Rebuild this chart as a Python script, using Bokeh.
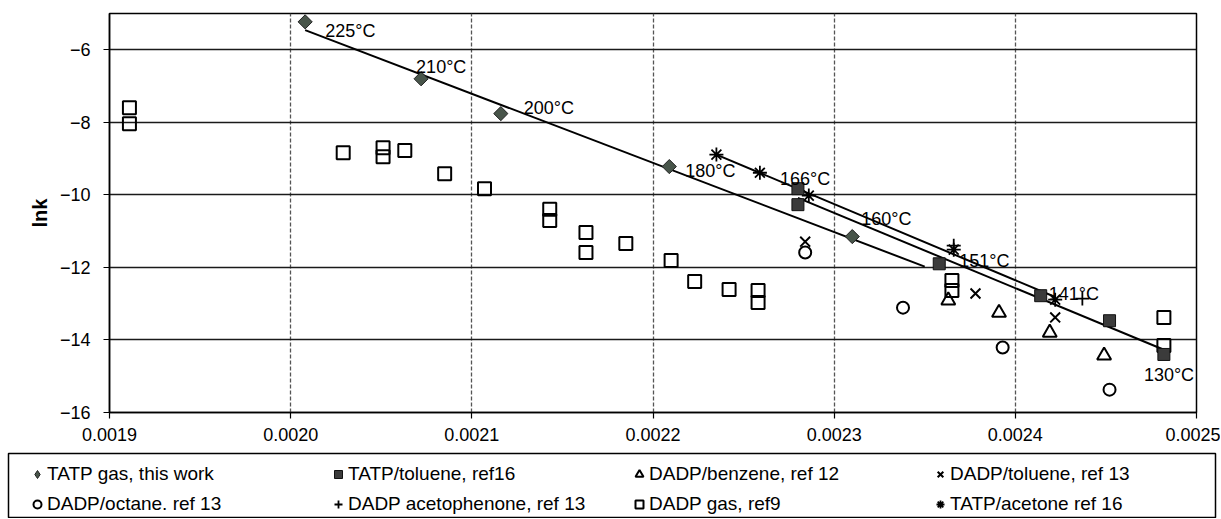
import numpy as np
from bokeh.plotting import figure
from bokeh.models import (Range1d, FixedTicker, PrintfTickFormatter, Legend,
                          LegendItem, ColumnDataSource)
from bokeh.core.properties import value
from bokeh.embed import file_html
from bokeh.resources import INLINE

# ---------------- data (1/T in K^-1, ln k) ----------------
tatp_gas_x = [0.002008, 0.002072, 0.002116, 0.002209, 0.002310]
tatp_gas_y = [-5.23, -6.80, -7.76, -9.22, -11.15]

tatp_tol_x = [0.002280, 0.002280, 0.002358, 0.002414, 0.002452, 0.002482]
tatp_tol_y = [-9.83, -10.27, -11.90, -12.78, -13.47, -14.40]

dadp_benz_x = [0.002363, 0.002391, 0.002419, 0.002449]
dadp_benz_y = [-12.91, -13.25, -13.80, -14.43]

dadp_tol_x = [0.002284, 0.002378, 0.002422]
dadp_tol_y = [-11.29, -12.72, -13.38]

dadp_oct_x = [0.002284, 0.002338, 0.002393, 0.002452]
dadp_oct_y = [-11.59, -13.11, -14.21, -15.37]

dadp_aceto_x = [0.002366, 0.002437]
dadp_aceto_y = [-11.40, -12.86]

dadp_gas_x = [0.001911, 0.001911, 0.002029, 0.002051, 0.002051, 0.002063,
              0.002085, 0.002107, 0.002143, 0.002143, 0.002163, 0.002163,
              0.002185, 0.002210, 0.002223, 0.002242, 0.002258, 0.002258,
              0.002365, 0.002365, 0.002482, 0.002482]
dadp_gas_y = [-7.60, -8.04, -8.84, -8.70, -8.95, -8.78,
              -9.42, -9.83, -10.40, -10.71, -11.04, -11.59,
              -11.34, -11.81, -12.39, -12.61, -12.64, -12.97,
              -12.36, -12.64, -13.38, -14.15]

tatp_acet_x = [0.002235, 0.002259, 0.002286, 0.002366, 0.002422]
tatp_acet_y = [-8.89, -9.39, -10.02, -11.51, -12.89]

gas_trend_end = 0.00235

x_ticks = [0.0019, 0.0020, 0.0021, 0.0022, 0.0023, 0.0024, 0.0025]
y_ticks = [-16, -14, -12, -10, -8, -6]

temp_labels = ["225°C", "210°C", "200°C", "180°C", "166°C",
               "160°C", "151°C", "141°C", "130°C"]
# which data point each temperature label belongs to
label_anchor = [("gas", 0), ("gas", 1), ("gas", 2), ("gas", 3), ("tol", 0),
                ("gas", 4), ("tol", 2), ("tol", 3), ("tol", 5)]
label_dx = [20, -5, 23, 16, -18, 9, 20, 8, -20]
label_dy = [9, -12, -6, 4, -10, -18, -3, -2, 21]

legend_labels = ["TATP gas, this work", "TATP/toluene, ref16",
                 "DADP/benzene, ref 12", "DADP/toluene, ref 13",
                 "DADP/octane. ref 13", "DADP acetophenone, ref 13",
                 "DADP gas, ref9", "TATP/acetone ref 16"]

FONT = "Liberation Sans"

STYLE = {
    "gas": dict(marker="square", size=10, angle=np.pi / 4, fill_color="#48554a",
                line_color="#222222", line_width=1),
    "tol": dict(marker="square", size=12, fill_color="#3b3b3b",
                line_color="#111111", line_width=1),
    "benz": dict(marker="triangle", size=14, fill_alpha=0, line_color="black",
                 line_width=2),
    "dtol": dict(marker="x", size=14, line_color="black", line_width=2),
    "oct": dict(marker="circle", size=12, fill_alpha=0, line_color="black",
                line_width=2),
    "aceto": dict(marker="cross", size=14, line_color="black", line_width=1.8),
    "dgas": dict(marker="square", size=13, fill_alpha=0, line_color="black",
                 line_width=2),
    "acet": dict(marker="asterisk", size=14, line_color="black", line_width=1.8),
}
# legend swatches: same look, the diamond drawn with bokeh's own diamond
LEG_STYLE = dict(STYLE)
LEG_STYLE["gas"] = dict(marker="diamond", size=14, fill_color="#48554a",
                        line_color="#222222", line_width=1)

SERIES = {
    "gas": (tatp_gas_x, tatp_gas_y), "tol": (tatp_tol_x, tatp_tol_y),
    "benz": (dadp_benz_x, dadp_benz_y), "dtol": (dadp_tol_x, dadp_tol_y),
    "oct": (dadp_oct_x, dadp_oct_y), "aceto": (dadp_aceto_x, dadp_aceto_y),
    "dgas": (dadp_gas_x, dadp_gas_y), "acet": (tatp_acet_x, tatp_acet_y),
}
legend_keys = ["gas", "tol", "benz", "dtol", "oct", "aceto", "dgas", "acet"]
draw_order = ["dgas", "oct", "benz", "dtol", "aceto", "acet", "tol", "gas"]

# ---------------- main figure ----------------
p = figure(width=1220, height=452, output_backend="svg", toolbar_location=None,
           x_range=Range1d(0.0019, 0.0025), y_range=Range1d(-16, -5),
           min_border_left=109, min_border_right=24, min_border_top=13,
           min_border_bottom=40, background_fill_color="white",
           border_fill_color="white")
p.outline_line_color = "black"
p.outline_line_width = 1.5

p.xaxis.ticker = FixedTicker(ticks=x_ticks)
p.xaxis.formatter = PrintfTickFormatter(format="%.4f")
p.yaxis.ticker = FixedTicker(ticks=y_ticks)
p.yaxis.axis_label = "lnk"
p.yaxis.axis_label_text_font = FONT
p.yaxis.axis_label_text_font_size = "20px"
p.yaxis.axis_label_text_font_style = "bold"
p.yaxis.axis_label_text_color = "black"
p.yaxis.axis_label_standoff = 6
for ax in (p.xaxis, p.yaxis):
    ax.axis_line_color = "black"
    ax.axis_line_width = 1.5
    ax.major_tick_line_color = "black"
    ax.major_tick_line_width = 1.2
    ax.major_tick_out = 6
    ax.major_tick_in = 0
    ax.minor_tick_line_color = None
    ax.major_label_text_font = FONT
    ax.major_label_text_font_size = "18px"
    ax.major_label_text_color = "black"
p.xaxis.major_label_standoff = 9
p.yaxis.major_label_standoff = 13

p.xgrid.grid_line_color = "#555555"
p.xgrid.grid_line_width = 1.3
p.xgrid.grid_line_dash = "4 2"
p.ygrid.grid_line_color = "#1a1a1a"
p.ygrid.grid_line_width = 1.3


def trend(xs, ys, x0, x1):
    m, b = np.polyfit(xs, ys, 1)
    return [x0, x1], [m * x0 + b, m * x1 + b]


tx, ty = trend(tatp_gas_x, tatp_gas_y, min(tatp_gas_x), gas_trend_end)
p.line(tx, ty, line_color="black", line_width=2)
tx, ty = trend(tatp_tol_x, tatp_tol_y, min(tatp_tol_x), max(tatp_tol_x))
p.line(tx, ty, line_color="black", line_width=2)
tx, ty = trend(tatp_acet_x, tatp_acet_y, min(tatp_acet_x), max(tatp_acet_x))
p.line(tx, ty, line_color="black", line_width=2)

for key in draw_order:
    xs, ys = SERIES[key]
    p.scatter(xs, ys, **STYLE[key])

lab_src = ColumnDataSource(dict(
    x=[SERIES[s][0][i] for s, i in label_anchor],
    y=[SERIES[s][1][i] for s, i in label_anchor],
    text=temp_labels, dx=label_dx, dy=label_dy))
p.text(x="x", y="y", text="text", x_offset="dx", y_offset="dy", source=lab_src,
       text_font=value(FONT), text_font_size=value("18px"),
       text_baseline="middle", text_align="left", text_color="black")

# ---------------- legend strip (its frame outline is the legend box) -------
lf = figure(width=1220, height=66, output_backend="svg", toolbar_location=None,
            x_range=Range1d(0, 1), y_range=Range1d(0, 1),
            min_border_left=8, min_border_right=5, min_border_top=1,
            min_border_bottom=1, x_axis_location=None, y_axis_location=None,
            background_fill_color="white", border_fill_color="white")
lf.outline_line_color = "black"
lf.outline_line_width = 1.5
lf.grid.visible = False
items = []
for key, lab in zip(legend_keys, legend_labels):
    xs, ys = SERIES[key]
    # same series, drawn outside this strip's data window -> only the
    # legend swatch shows
    r = lf.scatter(xs, ys, **LEG_STYLE[key])
    items.append(LegendItem(label=lab, renderers=[r]))

legend = Legend(items=items, orientation="horizontal", ncols=4,
                location=(19, 2), padding=0, spacing=8, margin=0,
                glyph_width=20, glyph_height=22, label_standoff=0,
                label_width=273, label_height=20,
                label_text_font=FONT, label_text_font_size="19px",
                label_text_color="black",
                border_line_color=None, background_fill_alpha=0)
lf.add_layout(legend)

open("out.html", "w").write(file_html([p, lf], INLINE))
